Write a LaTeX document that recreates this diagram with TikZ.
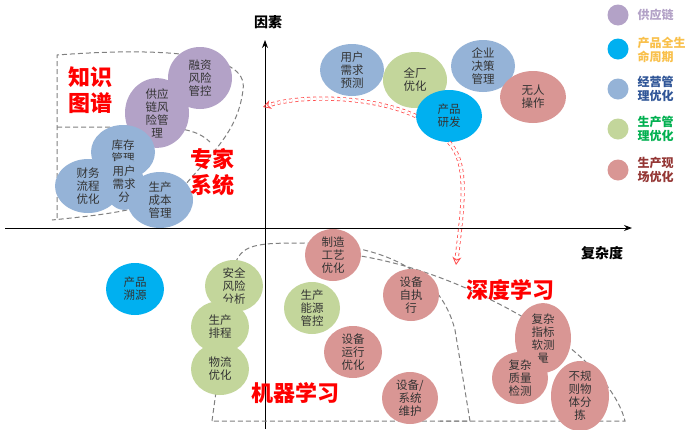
\documentclass[tikz,border=0pt]{standalone}
\usepackage{fontspec}
\setmainfont{Noto Sans CJK SC}
\usetikzlibrary{arrows.meta,shapes.geometric}
\definecolor{cpur}{HTML}{B3A2C7}
\definecolor{cblu}{HTML}{95B3D7}
\definecolor{cgrn}{HTML}{C3D69B}
\definecolor{cred}{HTML}{D99694}
\definecolor{ccya}{HTML}{00B0F0}
\definecolor{tor}{HTML}{F9C04A}
\definecolor{tblu}{HTML}{2F5597}
\definecolor{tgrn}{HTML}{00B050}
\definecolor{tred}{HTML}{943634}
\begin{document}
\begin{tikzpicture}[x=1pt,y=-1pt,
  bub/.style={ellipse,draw=none,minimum width=58pt,minimum height=52pt,inner sep=0pt,align=center,font=\fontsize{11.5}{13}\selectfont,text=black!80},
  big/.style={font=\fontsize{22}{26}\selectfont\bfseries,text=red,align=center},
  dsh/.style={draw=gray,line width=1pt,dash pattern=on 5pt off 3pt},
  arr/.style={draw=red!70,dashed,double,double distance=2.5pt,line width=0.8pt,-{Stealth[open,length=8pt,width=9pt]}},
  leg/.style={font=\fontsize{12}{14}\selectfont\bfseries,anchor=west,align=left}]
\useasboundingbox (0,0) rectangle (694,429);
\fill[white] (0,0) rectangle (694,429);
% axes
\coordinate (xs) at (5,228); \coordinate (xe) at (632,228);
\coordinate (ys) at (265,429); \coordinate (ye) at (265,40);
\draw[line width=0.9pt,-{Stealth[length=8pt]}] (xs) -- (xe);
\draw[line width=0.9pt,-{Stealth[length=8pt]}] (ys) -- (ye);
\node[font=\fontsize{14}{16}\selectfont\bfseries] (yl) at (268,22) {因素};
\node[font=\fontsize{14}{16}\selectfont\bfseries] (xl) at (602,253) {复杂度};
% dashed regions top-left
\draw[dsh] (57,218) -- (57,55) .. controls (150,48) and (250,50) .. (243,90) .. controls (238,130) and (215,150) .. (185,185) .. controls (160,210) and (100,215) .. (52,220);
\draw[dsh] (57,127) -- (160,127) .. controls (185,128) and (200,132) .. (210,142);
% top-left bubbles
\node[bub,fill=cpur,minimum width=64pt,minimum height=62pt] (b1) at (200,78) {融资\\风险\\管控};
\node[bub,fill=cpur,minimum width=64pt,minimum height=62pt] (b2) at (157,113) {供应\\链风\\险管\\理};
\node[bub,fill=cblu,minimum width=64pt,minimum height=54pt] (b3) at (123,152) {库存\\管理};
\node[bub,fill=cblu,minimum width=66pt,minimum height=56pt] (b4) at (160,200) {生产\\成本\\管理};
\node[bub,fill=cblu,minimum width=66pt,minimum height=54pt] (b5) at (88,186) {财务\\流程\\优化};
\node[bub,fill=cblu,minimum width=40pt,minimum height=50pt] (b6) at (124,184) {用户\\需求\\分};
\node[big] (t1) at (90,90) {知识\\图谱};
\node[big] (t2) at (212,172) {专家\\系统};
% top-right
\node[bub,fill=cblu,minimum width=64pt] (c1) at (352,70) {用户\\需求\\预测};
\node[bub,fill=cgrn,minimum width=64pt,minimum height=56pt] (c2) at (415,80) {全厂\\优化};
\node[bub,fill=cblu,minimum width=64pt] (c3) at (483,66) {企业\\决策\\管理};
\node[bub,fill=cred,minimum width=66pt] (c4) at (533,97) {无人\\操作};
\node[bub,fill=ccya,minimum width=66pt] (c5) at (449,116) {产品\\研发};
% arrows
\coordinate (a1) at (263,107); \coordinate (a2) at (456,265);
\draw[arr] (c5.west) .. controls (370,95) and (300,95) .. (a1);
\draw[arr] (c5.south) .. controls (470,165) and (462,210) .. (a2);
% legend
\node[circle,fill=cpur,minimum size=21pt,inner sep=0] (l1) at (618,15) {};
\node[circle,fill=ccya,minimum size=21pt,inner sep=0] (l2) at (618,49) {};
\node[circle,fill=cblu,minimum size=21pt,inner sep=0] (l3) at (618,89) {};
\node[circle,fill=cgrn,minimum size=21pt,inner sep=0] (l4) at (618,129) {};
\node[circle,fill=cred,minimum size=21pt,inner sep=0] (l5) at (618,170) {};
\node[leg,text=cpur] (m1) at (634,15) {供应链};
\node[leg,text=tor] (m2) at (634,50) {产品全生\\命周期};
\node[leg,text=tblu] (m3) at (634,89) {经营管\\理优化};
\node[leg,text=tgrn] (m4) at (634,129) {生产管\\理优化};
\node[leg,text=tred] (m5) at (634,170) {生产现\\场优化};
% bottom dashed regions
\draw[dsh] (212,421) -- (232,275) .. controls (238,245) and (250,243) .. (300,243) .. controls (380,243) and (440,270) .. (455,330) -- (470,421) -- cycle;
\draw[dsh] (330,252) .. controls (420,260) and (500,300) .. (560,340) .. controls (600,370) and (620,400) .. (625,421) -- (440,421);
% bottom bubbles
\node[bub,fill=ccya] (d1) at (135,289) {产品\\溯源};
\node[bub,fill=cgrn] (d2) at (234,286) {安全\\风险\\分析};
\node[bub,fill=cgrn] (d3) at (220,327) {生产\\排程};
\node[bub,fill=cgrn] (d4) at (220,369) {物流\\优化};
\node[bub,fill=cred,minimum width=56pt] (d5) at (333,255) {制造\\工艺\\优化};
\node[bub,fill=cgrn,minimum width=56pt] (d6) at (312,308) {生产\\能源\\管控};
\node[bub,fill=cred,minimum width=56pt] (d7) at (411,295) {设备\\自执\\行};
\node[bub,fill=cred,minimum width=58pt] (d8) at (353,352) {设备\\运行\\优化};
\node[bub,fill=cred,minimum width=56pt] (d9) at (543,338) {复杂\\指标\\软测\\量};
\node[bub,fill=cred,minimum width=56pt] (d10) at (520,378) {复杂\\质量\\检测};
\node[bub,fill=cred,minimum width=56pt] (d11) at (410,398) {设备/\\系统\\维护};
\node[bub,fill=cred,minimum width=58pt] (d12) at (580,396) {不规\\则物\\体分\\拣};
\node[big] (t3) at (510,290) {深度学习};
\node[big] (t4) at (295,393) {机器学习};
\end{tikzpicture}
\end{document}
